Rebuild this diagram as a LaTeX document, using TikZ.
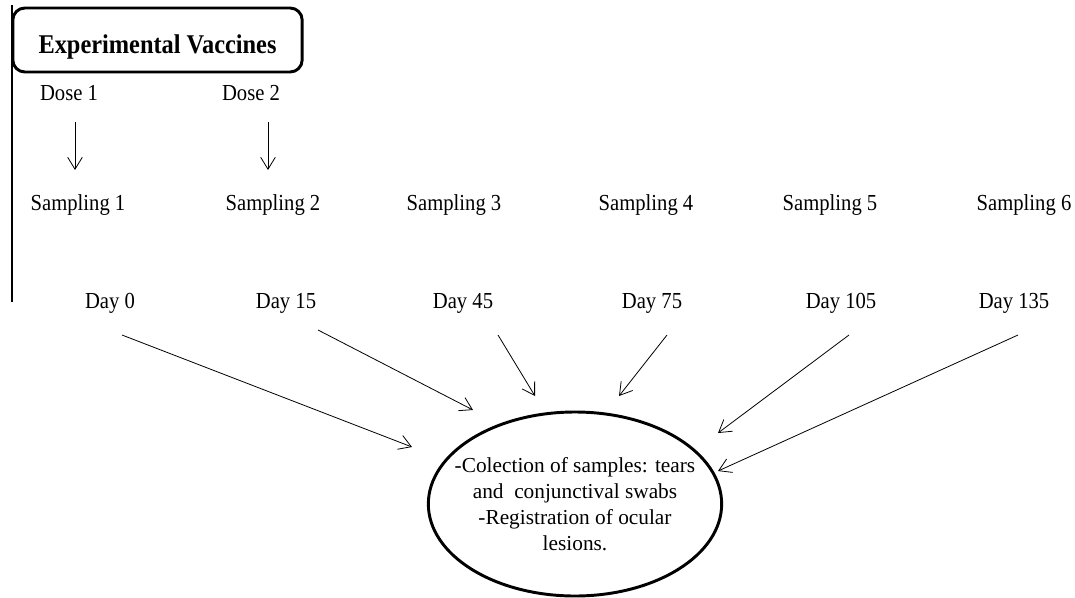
\documentclass[tikz,border=0pt]{standalone}
\usepackage{fontspec}
\setmainfont{Liberation Serif}
\newfontfamily\tallserif{Liberation Serif}[FakeStretch=0.9]
\usetikzlibrary{arrows.meta,shapes.geometric,calc}
\begin{document}
\begin{tikzpicture}[x=0.75pt,y=-0.75pt,
	lbl/.style={font=\tallserif\fontsize{17.2}{20}\selectfont, inner sep=2pt},
	arr/.style={-{Straight Barb[length=9pt,width=11pt]}, line width=0.6pt}]
	\useasboundingbox (0,0) rectangle (1075,597);
	%frame
	\draw[line width=1pt] (12,5) -- (12,302);
	\node[draw, line width=2.2pt, rounded corners=9pt, minimum width=217pt, minimum height=48pt,
	text height=24pt, text depth=4.4pt,
	font=\tallserif\fontsize{20.3}{24}\selectfont\bfseries] (vacc) at (157.5,40) {Experimental Vaccines};
	%doses
	\node[lbl] (dose1) at (69,93) {Dose 1};
	\node[lbl] (dose2) at (251,93) {Dose 2};
	%samplings
	\foreach \x [count=\i] in {78,273,454,646,830,1024}
	\node[lbl] (samp\i) at (\x,205) {Sampling \i};
	%days
	\foreach \x/\d [count=\i] in {110/0,286/15,463/45,652/75,841/105,1014/135}
	\node[lbl] (day\i) at (\x,303) {Day \d};
	%ellipse
	\node[draw, ellipse, line width=2.2pt, minimum width=220pt, minimum height=138pt, inner xsep=-16pt,
	inner ysep=0pt, align=center, font=\fontsize{16}{19.5}\selectfont] (obs) at (575,504)
	{-Colection of samples: tears\\and\ \ conjunctival swabs\\-Registration of ocular\\lesions.};
	%arrows
	\draw[arr] ($(dose1)+(6,29)$) -- ($(samp1)+(-3,-35)$);
	\draw[arr] ($(dose2)+(17,29)$) -- ($(samp2)+(-5,-35)$);
	\foreach \i/\a/\b/\c/\d in {1/12/32/-163/-57, 2/32/27/-102/-94, 3/35/32/-40/-108,
		4/15/32/44/-108, 5/8/32/143/-71, 6/4/32/143/-33}
	\draw[arr] ($(day\i)+(\a,\b)$) -- ($(obs)+(\c,\d)$);
\end{tikzpicture}
\end{document}
